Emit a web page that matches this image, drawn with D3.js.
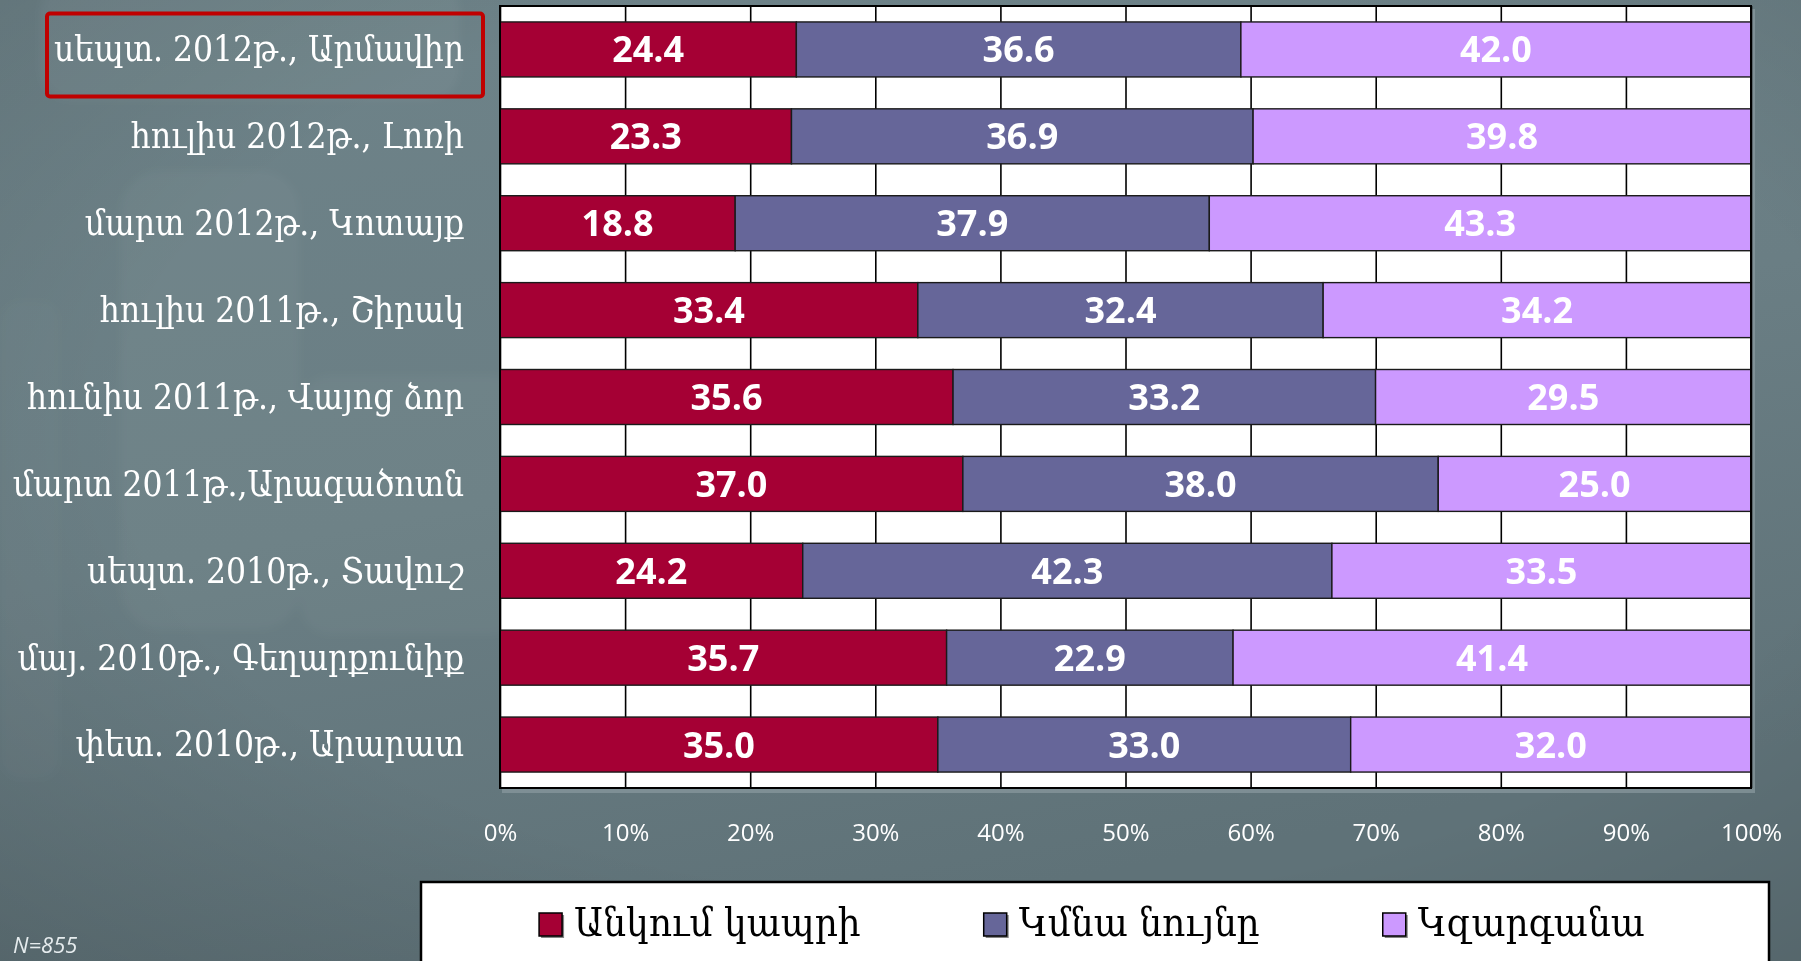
<!DOCTYPE html>
<html>
<head>
<meta charset="utf-8">
<script src="https://cdn.jsdelivr.net/npm/d3@7"></script>
<style>
  html, body { margin: 0; padding: 0; overflow: hidden; background: #6a7e85; }
  svg { display: block; }
</style>
</head>
<body>
<svg id="chart" width="1801" height="961"></svg>
<script>
// Survey waves (region, date), top to bottom
const categories = [
  "սեպտ. 2012թ., Արմավիր",
  "հուլիս 2012թ., Լոռի",
  "մարտ 2012թ., Կոտայք",
  "հուլիս 2011թ., Շիրակ",
  "հունիս 2011թ., Վայոց ձոր",
  "մարտ 2011թ.,Արագածոտն",
  "սեպտ. 2010թ., Տավուշ",
  "մայ. 2010թ., Գեղարքունիք",
  "փետ. 2010թ., Արարատ"
];

// Answer shares, %
const seriesNames = ["Անկում կապրի", "Կմնա նույնը", "Կզարգանա"];
const declineValues = [24.4, 23.3, 18.8, 33.4, 35.6, 37.0, 24.2, 35.7, 35.0];
const sameValues    = [36.6, 36.9, 37.9, 32.4, 33.2, 38.0, 42.3, 22.9, 33.0];
const growthValues  = [42.0, 39.8, 43.3, 34.2, 29.5, 25.0, 33.5, 41.4, 32.0];

// Axis ticks (share of row total)
const tickValues = [0, 0.1, 0.2, 0.3, 0.4, 0.5, 0.6, 0.7, 0.8, 0.9, 1.0];
const tickLabels = ["0%", "10%", "20%", "30%", "40%", "50%", "60%", "70%", "80%", "90%", "100%"];

const highlightedCategory = categories[0];
const sampleNote = "N=855";

const seriesColors = ["#a50034", "#666699", "#cc99ff"];

// ---------------------------------------------------------------
const W = 1801, H = 961;
const plot = { left: 500, right: 1751, top: 6, bottom: 788 };

const svg = d3.select("#chart");
const defs = svg.append("defs");

// Backdrop
const bg = defs.append("linearGradient").attr("id", "bgGrad")
  .attr("x1", "0").attr("y1", "0").attr("x2", "0.35").attr("y2", "1");
bg.append("stop").attr("offset", "0").attr("stop-color", "#6e8389");
bg.append("stop").attr("offset", "0.55").attr("stop-color", "#6a7e84");
bg.append("stop").attr("offset", "1").attr("stop-color", "#5f7278");
svg.append("rect").attr("width", W).attr("height", H).attr("fill", "url(#bgGrad)");

const vign = defs.append("radialGradient").attr("id", "vign")
  .attr("cx", "0.55").attr("cy", "0.45").attr("r", "0.8");
vign.append("stop").attr("offset", "0.6").attr("stop-color", "#000").attr("stop-opacity", 0);
vign.append("stop").attr("offset", "1").attr("stop-color", "#000").attr("stop-opacity", 0.14);
svg.append("rect").attr("width", W).attr("height", H).attr("fill", "url(#vign)");

// faint logo shapes in the backdrop
const soft = defs.append("filter").attr("id", "soft").attr("x", "-20%").attr("y", "-20%").attr("width", "140%").attr("height", "140%");
soft.append("feGaussianBlur").attr("stdDeviation", 5);
const wm = svg.append("g").attr("filter", "url(#soft)").attr("fill", "#ffffff");
wm.append("rect").attr("x", 40).attr("y", -20).attr("width", 420).attr("height", 120).attr("rx", 30).attr("opacity", 0.04);
wm.append("rect").attr("x", 120).attr("y", 170).attr("width", 180).attr("height", 460).attr("rx", 40).attr("opacity", 0.03);
wm.append("rect").attr("x", 300).attr("y", 375).attr("width", 220).attr("height", 260).attr("rx", 30).attr("opacity", 0.03);
wm.append("rect").attr("x", 0).attr("y", 300).attr("width", 60).attr("height", 480).attr("rx", 20).attr("opacity", 0.02);

// Scales
const x = d3.scaleLinear().domain([0, 1]).range([plot.left, plot.right]);
const y = d3.scaleBand().domain(categories).range([plot.top, plot.bottom])
  .paddingInner(0.367).paddingOuter(0.1835);

// Rows and 100% stacking
const keys = ["decline", "same", "growth"];
const rows = categories.map((c, i) => ({
  category: c, decline: declineValues[i], same: sameValues[i], growth: growthValues[i]
}));
const stacked = d3.stack().keys(keys).offset(d3.stackOffsetExpand)(rows);

// Plot area shadow + white background
svg.append("rect").attr("x", plot.left + 2).attr("y", plot.top + 3)
  .attr("width", plot.right - plot.left + 2).attr("height", plot.bottom - plot.top + 2)
  .attr("fill", "#8a9a9f").attr("opacity", 0.7);
svg.append("rect").attr("x", plot.left).attr("y", plot.top)
  .attr("width", plot.right - plot.left).attr("height", plot.bottom - plot.top)
  .attr("fill", "#ffffff");

// Vertical gridlines + percent labels
const xAxis = d3.axisBottom(x).tickValues(tickValues)
  .tickFormat((d, i) => tickLabels[i])
  .tickSize(-(plot.bottom - plot.top)).tickPadding(36);
const gx = svg.append("g").attr("transform", `translate(0,${plot.bottom})`).call(xAxis);
gx.select(".domain").remove();
gx.selectAll(".tick line").attr("stroke", "#000").attr("stroke-width", 1.6);
gx.selectAll(".tick text").attr("fill", "#ffffff")
  .style("font-family", "'Open Sans', 'Noto Sans', sans-serif").style("font-size", "24px");

// Bars
const layers = svg.append("g").selectAll("g").data(stacked).join("g")
  .attr("fill", (d, i) => seriesColors[i]);
layers.selectAll("rect").data(d => d.map(s => ({ s, key: d.key }))).join("rect")
  .attr("x", d => x(d.s[0]))
  .attr("y", d => y(d.s.data.category))
  .attr("width", d => x(d.s[1]) - x(d.s[0]))
  .attr("height", y.bandwidth())
  .attr("stroke", "#1a1a1a").attr("stroke-width", 1.4);

// Value labels
const fmt = d3.format(".1f");
layers.selectAll("text").data(d => d.map(s => ({ s, key: d.key }))).join("text")
  .attr("x", d => (x(d.s[0]) + x(d.s[1])) / 2)
  .attr("y", d => y(d.s.data.category) + y.bandwidth() / 2 + 13)
  .attr("text-anchor", "middle")
  .attr("fill", "#ffffff")
  .style("font-family", "'Open Sans', 'Noto Sans', sans-serif")
  .style("font-weight", 700).style("font-size", "36px")
  .text(d => fmt(d.s.data[d.key]));

// Plot frame
svg.append("rect").attr("x", plot.left).attr("y", plot.top)
  .attr("width", plot.right - plot.left).attr("height", plot.bottom - plot.top)
  .attr("fill", "none").attr("stroke", "#000").attr("stroke-width", 2);

// Category labels
const yAxis = d3.axisLeft(y).tickSize(0).tickPadding(36);
const gy = svg.append("g").attr("transform", `translate(${plot.left},0)`).call(yAxis);
gy.select(".domain").remove();
gy.selectAll(".tick text").attr("fill", "#ffffff").attr("dy", "0.34em")
  .style("font-family", "'DejaVu Serif Condensed', 'DejaVu Serif', serif")
  .style("font-size", "35px");

// Highlight frame around the latest wave
const hy = y(highlightedCategory) + y.bandwidth() / 2;
svg.append("rect").attr("x", 47).attr("y", hy - 36)
  .attr("width", 436).attr("height", 83).attr("rx", 3)
  .attr("fill", "none").attr("stroke", "#c00000").attr("stroke-width", 4);

// Legend
const legendBox = { x: 421, y: 882, w: 1348, h: 110 };
svg.append("rect").attr("x", legendBox.x).attr("y", legendBox.y)
  .attr("width", legendBox.w).attr("height", legendBox.h)
  .attr("fill", "#ffffff").attr("stroke", "#000").attr("stroke-width", 2.5);
const lg = svg.append("g");
const baseY = 936, sw = 23, textGap = 12, itemGap = 123;
let cx = 0;
seriesNames.forEach((name, i) => {
  const item = lg.append("g").attr("transform", `translate(${cx},0)`);
  item.append("rect").attr("x", 2).attr("y", baseY - sw + 2).attr("width", sw).attr("height", sw)
    .attr("fill", "#333").attr("opacity", 0.6);
  item.append("rect").attr("x", 0).attr("y", baseY - sw).attr("width", sw).attr("height", sw)
    .attr("fill", seriesColors[i]).attr("stroke", "#000").attr("stroke-width", 1.5);
  const t = item.append("text").attr("x", sw + textGap).attr("y", baseY)
    .attr("fill", "#000")
    .style("font-family", "'DejaVu Serif Condensed', 'DejaVu Serif', serif")
    .style("font-size", "40px").text(name);
  cx += sw + textGap + t.node().getComputedTextLength() + itemGap;
});
const lgWidth = cx - itemGap;
lg.attr("transform", `translate(${legendBox.x + (legendBox.w - lgWidth) / 2 - 3},0)`);

// Sample size note
svg.append("text").attr("x", 13).attr("y", 953)
  .attr("fill", "#e6ecee")
  .style("font-family", "'Open Sans', 'Noto Sans', sans-serif")
  .style("font-style", "italic").style("font-size", "22px")
  .text(sampleNote);
</script>
</body>
</html>
